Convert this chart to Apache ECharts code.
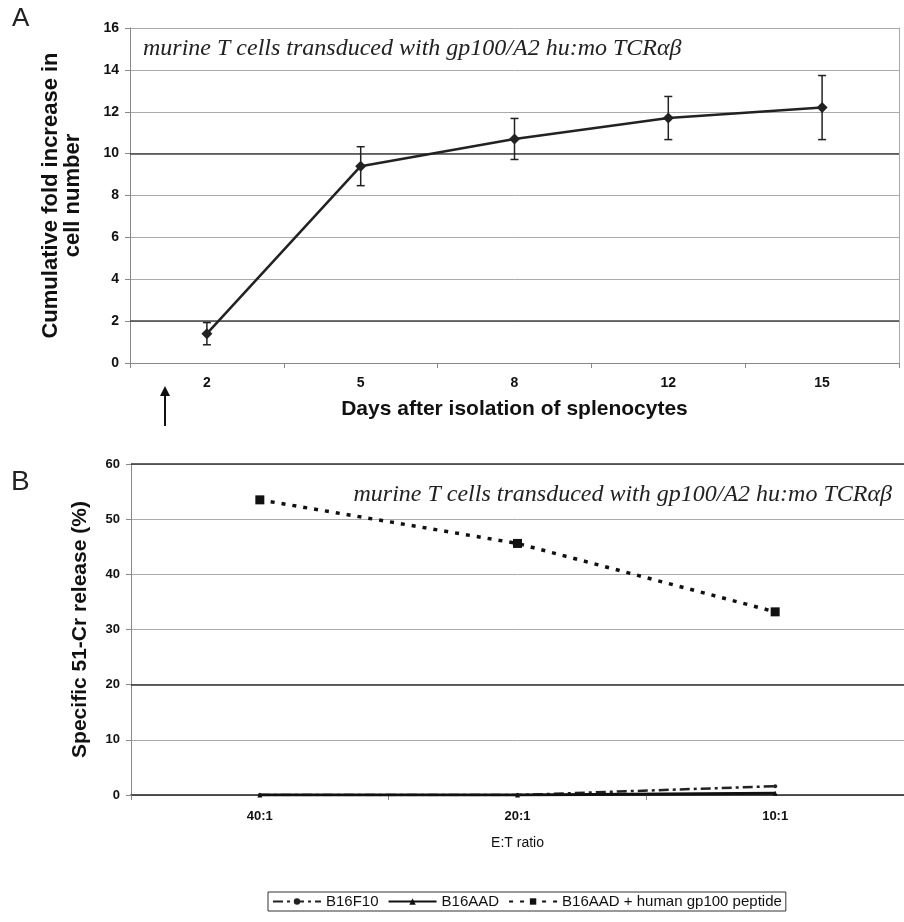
<!DOCTYPE html>
<html>
<head>
<meta charset="utf-8">
<script src="https://cdn.jsdelivr.net/npm/echarts@6/dist/echarts.min.js"></script>
<style>
html,body{margin:0;padding:0;background:#fff}
#chart{width:904px;height:922px}
</style>
</head>
<body>
<div id="chart"></div>
<script>
// panel A: expansion of transduced T cells
var days = ['2', '5', '8', '12', '15'];
var foldMean = [1.4, 9.4, 10.7, 11.7, 12.2];
var foldErr = [0.53, 0.93, 0.98, 1.03, 1.53];
var darkGridA = [2, 10];

// panel B: 51-Cr release
var etRatio = ['40:1', '20:1', '10:1'];
var b16f10 = [0, 0, 1.6];
var b16aad = [0, 0, 0.3];
var b16aadGp100 = [53.5, 45.6, 33.2];
var darkGridB = [20, 60];

var seriesNames = ['B16F10', 'B16AAD', 'B16AAD + human gp100 peptide'];
var noteText = 'murine T cells transduced with gp100/A2 hu:mo TCR\u03b1\u03b2';

var sans = 'Liberation Sans, Arial, sans-serif';
var serif = 'Liberation Serif, Times New Roman, serif';

var errData = [];
for (var i = 0; i < days.length; i++) {
    errData.push([i, foldMean[i] - foldErr[i], foldMean[i] + foldErr[i]]);
}

function renderErrorBar(params, api) {
    var x = api.value(0);
    var lo = api.coord([x, api.value(1)]);
    var hi = api.coord([x, api.value(2)]);
    var half = 4;
    var style = {stroke: '#222', lineWidth: 1.5};
    return {
        type: 'group',
        children: [
            {type: 'line', shape: {x1: lo[0], y1: lo[1], x2: hi[0], y2: hi[1]}, style: style},
            {type: 'line', shape: {x1: lo[0] - half, y1: lo[1], x2: lo[0] + half, y2: lo[1]}, style: style},
            {type: 'line', shape: {x1: hi[0] - half, y1: hi[1], x2: hi[0] + half, y2: hi[1]}, style: style}
        ]
    };
}

function darkLines(values) {
    var out = [];
    for (var i = 0; i < values.length; i++) {
        out.push({yAxis: values[i]});
    }
    return out;
}

var myChart = echarts.init(document.getElementById('chart'));
var option = {
    animation: false,
    backgroundColor: '#fff',
    grid: [
        {left: 130, right: 5, top: 28, bottom: 559},
        {left: 131, right: -3, top: 464, bottom: 127}
    ],
    legend: {
        data: seriesNames,
        left: 268,
        top: 892,
        orient: 'horizontal',
        borderColor: '#333',
        borderWidth: 1,
        padding: [2, 4],
        itemGap: 9,
        itemWidth: 48,
        itemHeight: 8,
        textStyle: {fontFamily: sans, fontSize: 15, color: '#111'}
    },
    xAxis: [
        {
            gridIndex: 0,
            type: 'category',
            data: days,
            boundaryGap: true,
            axisLine: {lineStyle: {color: '#888'}},
            axisTick: {show: true, length: 5, lineStyle: {color: '#888'}},
            axisLabel: {fontFamily: sans, fontWeight: 'bold', fontSize: 14, color: '#111', margin: 13},
            name: 'Days after isolation of splenocytes',
            nameLocation: 'middle',
            nameGap: 36,
            nameTextStyle: {fontFamily: sans, fontWeight: 'bold', fontSize: 21, color: '#111'}
        },
        {
            gridIndex: 1,
            type: 'category',
            data: etRatio,
            boundaryGap: true,
            axisLine: {lineStyle: {color: '#222', width: 1.5}},
            axisTick: {show: true, length: 5, lineStyle: {color: '#888'}},
            axisLabel: {fontFamily: sans, fontWeight: 'bold', fontSize: 13, color: '#111', margin: 15},
            name: 'E:T ratio',
            nameLocation: 'middle',
            nameGap: 41,
            nameTextStyle: {fontFamily: sans, fontSize: 14, color: '#111'}
        }
    ],
    yAxis: [
        {
            gridIndex: 0,
            type: 'value',
            min: 0,
            max: 16,
            interval: 2,
            axisLine: {show: true, lineStyle: {color: '#888'}},
            axisTick: {show: true, length: 5, lineStyle: {color: '#888'}},
            axisLabel: {fontFamily: sans, fontWeight: 'bold', fontSize: 14, color: '#111', margin: 11},
            splitLine: {lineStyle: {color: '#aaa'}},
            name: 'Cumulative fold increase in\ncell number',
            nameLocation: 'middle',
            nameGap: 46,
            nameTextStyle: {fontFamily: sans, fontWeight: 'bold', fontSize: 22, lineHeight: 22, color: '#111'}
        },
        {
            gridIndex: 0,
            type: 'value',
            position: 'right',
            min: 0,
            max: 16,
            interval: 2,
            axisLine: {show: true, lineStyle: {color: '#aaa'}},
            axisTick: {show: false},
            axisLabel: {show: false},
            splitLine: {show: false}
        },
        {
            gridIndex: 1,
            type: 'value',
            min: 0,
            max: 60,
            interval: 10,
            axisLine: {show: true, lineStyle: {color: '#888'}},
            axisTick: {show: true, length: 5, lineStyle: {color: '#888'}},
            axisLabel: {fontFamily: sans, fontWeight: 'bold', fontSize: 13, color: '#111', margin: 11},
            splitLine: {lineStyle: {color: '#aaa'}},
            name: 'Specific 51-Cr release (%)',
            nameLocation: 'middle',
            nameGap: 40,
            nameTextStyle: {fontFamily: sans, fontWeight: 'bold', fontSize: 21, color: '#111'}
        }
    ],
    series: [
        {
            name: 'errA',
            type: 'custom',
            xAxisIndex: 0,
            yAxisIndex: 0,
            renderItem: renderErrorBar,
            encode: {x: 0, y: [1, 2]},
            data: errData,
            z: 3
        },
        {
            name: 'foldA',
            type: 'line',
            xAxisIndex: 0,
            yAxisIndex: 0,
            data: foldMean,
            symbol: 'diamond',
            symbolSize: 11,
            lineStyle: {color: '#222', width: 2.5},
            itemStyle: {color: '#222'},
            z: 4,
            markLine: {
                silent: true,
                symbol: 'none',
                label: {show: false},
                lineStyle: {color: '#444', type: 'solid', width: 1.5},
                data: darkLines(darkGridA),
                z: 1
            }
        },
        {
            name: seriesNames[0],
            type: 'line',
            xAxisIndex: 1,
            yAxisIndex: 2,
            data: b16f10,
            symbol: 'circle',
            symbolSize: 4,
            lineStyle: {color: '#222', width: 2.5, type: [10, 4, 3, 4]},
            itemStyle: {color: '#222'},
            z: 4,
            markLine: {
                silent: true,
                symbol: 'none',
                label: {show: false},
                lineStyle: {color: '#333', type: 'solid', width: 1.5},
                data: darkLines(darkGridB),
                z: 1
            }
        },
        {
            name: seriesNames[1],
            type: 'line',
            xAxisIndex: 1,
            yAxisIndex: 2,
            data: b16aad,
            symbol: 'triangle',
            symbolSize: 5,
            lineStyle: {color: '#111', width: 3},
            itemStyle: {color: '#111'},
            z: 4
        },
        {
            name: seriesNames[2],
            type: 'line',
            xAxisIndex: 1,
            yAxisIndex: 2,
            data: b16aadGp100,
            symbol: 'rect',
            symbolSize: 9,
            lineStyle: {color: '#111', width: 3.5, type: [4, 7], cap: 'butt'},
            itemStyle: {color: '#111'},
            z: 4
        }
    ],
    graphic: [
        {type: 'text', left: 12, top: 6, style: {text: 'A', font: '26px ' + sans, fill: '#222'}},
        {type: 'text', left: 11, top: 468, style: {text: 'B', font: '28px ' + sans, fill: '#222'}},
        {type: 'text', left: 143, top: 37, style: {text: noteText, font: 'italic 24px ' + serif, fill: '#222'}},
        {type: 'text', right: 12, top: 483, style: {text: noteText, font: 'italic 24px ' + serif, fill: '#222'}},
        {
            type: 'group',
            left: 160,
            top: 386,
            children: [
                {type: 'line', shape: {x1: 6, y1: 8, x2: 6, y2: 40}, style: {stroke: '#111', lineWidth: 2}},
                {type: 'polygon', shape: {points: [[6, 0], [1, 10], [11, 10]]}, style: {fill: '#111'}}
            ]
        }
    ]
};
myChart.setOption(option);
</script>
</body>
</html>
